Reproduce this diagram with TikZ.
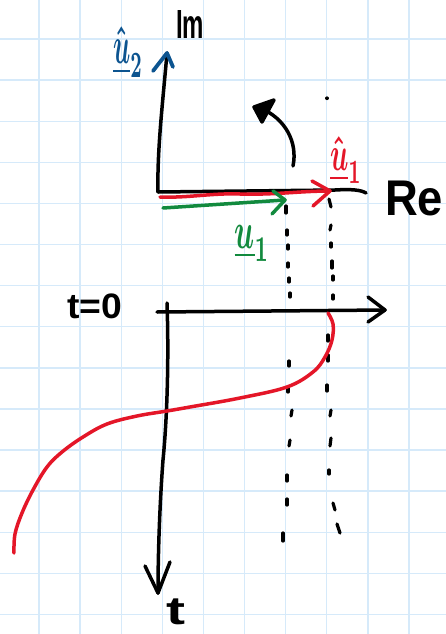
\documentclass[tikz,border=0pt]{standalone}
\usepackage{fontspec}
\setmainfont{Liberation Sans}
\definecolor{gridc}{RGB}{214,234,250}
\definecolor{penred}{RGB}{228,22,40}
\definecolor{pengreen}{RGB}{18,138,62}
\definecolor{penblue}{RGB}{12,84,144}
\tikzset{
  gridline/.style={gridc, line width=1.4pt},
  ink/.style={black, line width=3.5pt, line cap=round, line join=round},
  redpen/.style={penred, line width=3.5pt, line cap=round, line join=round},
  greenpen/.style={pengreen, line width=3.5pt, line cap=round, line join=round},
  bluepen/.style={penblue, line width=3.8pt, line cap=round, line join=round},
  dotpen/.style={black, line width=3.2pt, line cap=round},
  lbl/.style={inner sep=0pt, anchor=center, font=\bfseries}
}
\begin{document}
\begin{tikzpicture}[x=1pt, y=-1pt]
\useasboundingbox (0,0) rectangle (446,634);
\fill[white] (0,0) rectangle (446,634);
% grid
\foreach \k in {0,...,9} \draw[gridline] ({39+41.1*\k},0) -- ({39+41.1*\k},634);
\foreach \k in {0,...,14} \draw[gridline] (0,{39+41.1*\k}) -- (446,{39+41.1*\k});

% ---------- upper diagram: complex plane ----------
\coordinate (O1) at (158,192);
\coordinate (ImTop) at (167,53);
\coordinate (ReEnd) at (366,193);
\draw[ink] (O1) .. controls (157,150) and (163,100) .. (ImTop);
\draw[bluepen] (153,71) -- (ImTop) -- (173,67);
\draw[ink] (O1) -- (335,190) .. controls (352,189) and (361,190) .. (ReEnd);

% red unit vector
\coordinate (R0) at (160,197);
\coordinate (R1) at (330,191);
\draw[redpen] (R0) .. controls (190,198) and (210,193) .. (240,194) .. controls (275,195) and (300,191) .. (R1);
\draw[redpen] (312,181) -- (R1) -- (313,206);

% green vector
\coordinate (G0) at (163,208);
\coordinate (G1) at (285,200);
\draw[greenpen] (G0) -- (G1);
\draw[greenpen] (273,191) -- (G1) -- (272,214);

% rotation arrow
\coordinate (C0) at (293,166);
\coordinate (C1) at (260,108);
\draw[ink] (C0) .. controls (298,142) and (285,118) .. (C1);
\filldraw[ink] (254,107) -- (274,100) -- (262,122) -- cycle;

% labels
\node[lbl] (im) at (190,24) {\resizebox*{28pt}{28pt}{Im}};
\node[lbl] (re) at (414,198) {\resizebox*{58pt}{35pt}{Re}};
\node[lbl, penblue] (u2) at (128,52) {\resizebox*{30pt}{50pt}{\boldmath$\hat{\underline{u}}_2$}};
\node[lbl, penred] (u1h) at (346,160) {\resizebox*{32pt}{46pt}{\boldmath$\hat{\underline{u}}_1$}};
\node[lbl, pengreen] (u1) at (252,243) {\resizebox*{35pt}{36pt}{\boldmath$\underline{u}_1$}};

% dotted projections
\foreach \a/\b/\c/\d in {286/206/286/213, 287/230/287/235, 288/245/288/249, 288/263/288/267, 289/278/289/282, 290/293/290/297,
  289/361/289/366, 288/388/288/392, 292/410/291/416, 290/440/289/446, 287/475/287/481, 287/499/287/505, 283/533/283/541,
  327/98/327/98.5, 329/199/331/207, 331/225/330/230, 331/243/331/247, 332/261/332/268, 333/276/333/280, 333/295/333/299,
  328/335/328/341, 328/355/328/361, 327/385/327/391, 331/410/330/416, 331/438/330/446, 329/470/329/474, 333/503/335/510, 337/524/340/533}
  \draw[dotpen] (\a,\b) -- (\c,\d);

% ---------- lower diagram: time evolution ----------
\coordinate (O2) at (157,312);
\coordinate (HEnd) at (385,310);
\coordinate (VTop) at (167,303);
\coordinate (VEnd) at (158,593);
\draw[ink] (O2) -- (HEnd);
\draw[ink] (368,297) -- (HEnd) -- (368,322);
\draw[ink] (VTop) .. controls (169,360) and (167,420) .. (163,460) .. controls (160,500) and (158,550) .. (VEnd);
\draw[ink] (145,566) -- (VEnd) -- (170,562);

\draw[redpen] plot[smooth, tension=0.6] coordinates {(328,313) (333,324) (332,340) (325,357) (313,372) (287,387) (240,398) (190,407) (167,411) (137,416) (107,424) (83,437) (62,452) (47,467) (33,490) (22,513) (15,534) (14,553)};

\node[lbl] (t0) at (95,306) {\resizebox*{55pt}{25pt}{t=0}};
\node[lbl] (t) at (176,612) {\resizebox*{19pt}{26pt}{t}};
\end{tikzpicture}
\end{document}
